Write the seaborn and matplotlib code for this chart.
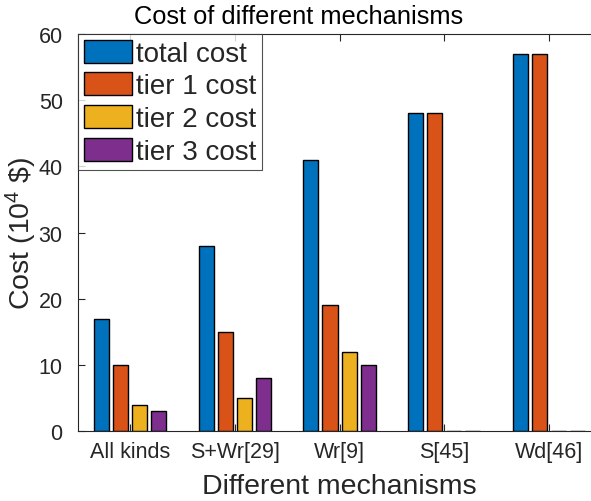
import matplotlib
matplotlib.use("Agg")
import matplotlib.pyplot as plt
import seaborn as sns
import pandas as pd

# data
mechanisms = ["All kinds", "S+Wr[29]", "Wr[9]", "S[45]", "Wd[46]"]
series = ["total cost", "tier 1 cost", "tier 2 cost", "tier 3 cost"]
total_cost = [17, 28, 41, 48, 57]
tier1_cost = [10, 15, 19, 48, 57]
tier2_cost = [4, 5, 12, 0, 0]
tier3_cost = [3, 8, 10, 0, 0]
colors = ["#0072BD", "#D95319", "#EDB120", "#7E2F8E"]

rows = []
for name, vals in zip(series, [total_cost, tier1_cost, tier2_cost, tier3_cost]):
    for m, v in zip(mechanisms, vals):
        rows.append({"mechanism": m, "series": name, "cost": v})
df = pd.DataFrame(rows)

sns.set_theme(style="white")
plt.rcParams['font.family'] = ['Liberation Sans', 'DejaVu Sans']
plt.rcParams['mathtext.fontset'] = 'custom'
plt.rcParams['mathtext.rm'] = 'Liberation Sans'
plt.rcParams['mathtext.it'] = 'Liberation Sans'

fig = plt.figure(figsize=(5.91, 5.02), dpi=100)
# axes run a little past the right edge, as in the cropped original
ax = fig.add_axes([0.132, 0.1394, 0.885, 0.7908])

sns.barplot(data=df, x="mechanism", y="cost", hue="series", palette=colors,
            width=0.73, gap=0.21, edgecolor="black", linewidth=1.0,
            saturation=1, ax=ax)

ax.set_xlim(-0.5, 4.5)
ax.set_ylim(0, 60)
ax.set_yticks(range(0, 61, 10))
fig.text(299 / 591, 0.99, "Cost of different mechanisms", fontsize=18.3,
         color="black", ha="center", va="top")
ax.set_xlabel("Different mechanisms", fontsize=20.5, color="#262626", labelpad=8)
ax.set_ylabel(r"Cost (10$^4$ \$)", fontsize=20.5, color="#262626")
ax.yaxis.set_label_coords(-0.075, 0.5)

ax.tick_params(axis="both", direction="in", length=5, width=0.8, color="#262626",
               labelsize=15.5, labelcolor="#262626", top=True, right=False,
               left=True, bottom=True)
ax.tick_params(axis="y", pad=11)
ax.tick_params(axis="x", pad=7)
for sp in ax.spines.values():
    sp.set_color("#262626")
    sp.set_linewidth(0.8)
ax.spines["right"].set_visible(False)

leg = ax.legend(loc="upper left", fontsize=20, frameon=True, fancybox=False,
                edgecolor="#262626", handlelength=1.75, handleheight=0.9,
                handletextpad=0.15, borderaxespad=0.0, borderpad=0.2,
                labelspacing=0.2)
leg.get_frame().set_linewidth(0.8)

fig.savefig("out.png", dpi=100)
